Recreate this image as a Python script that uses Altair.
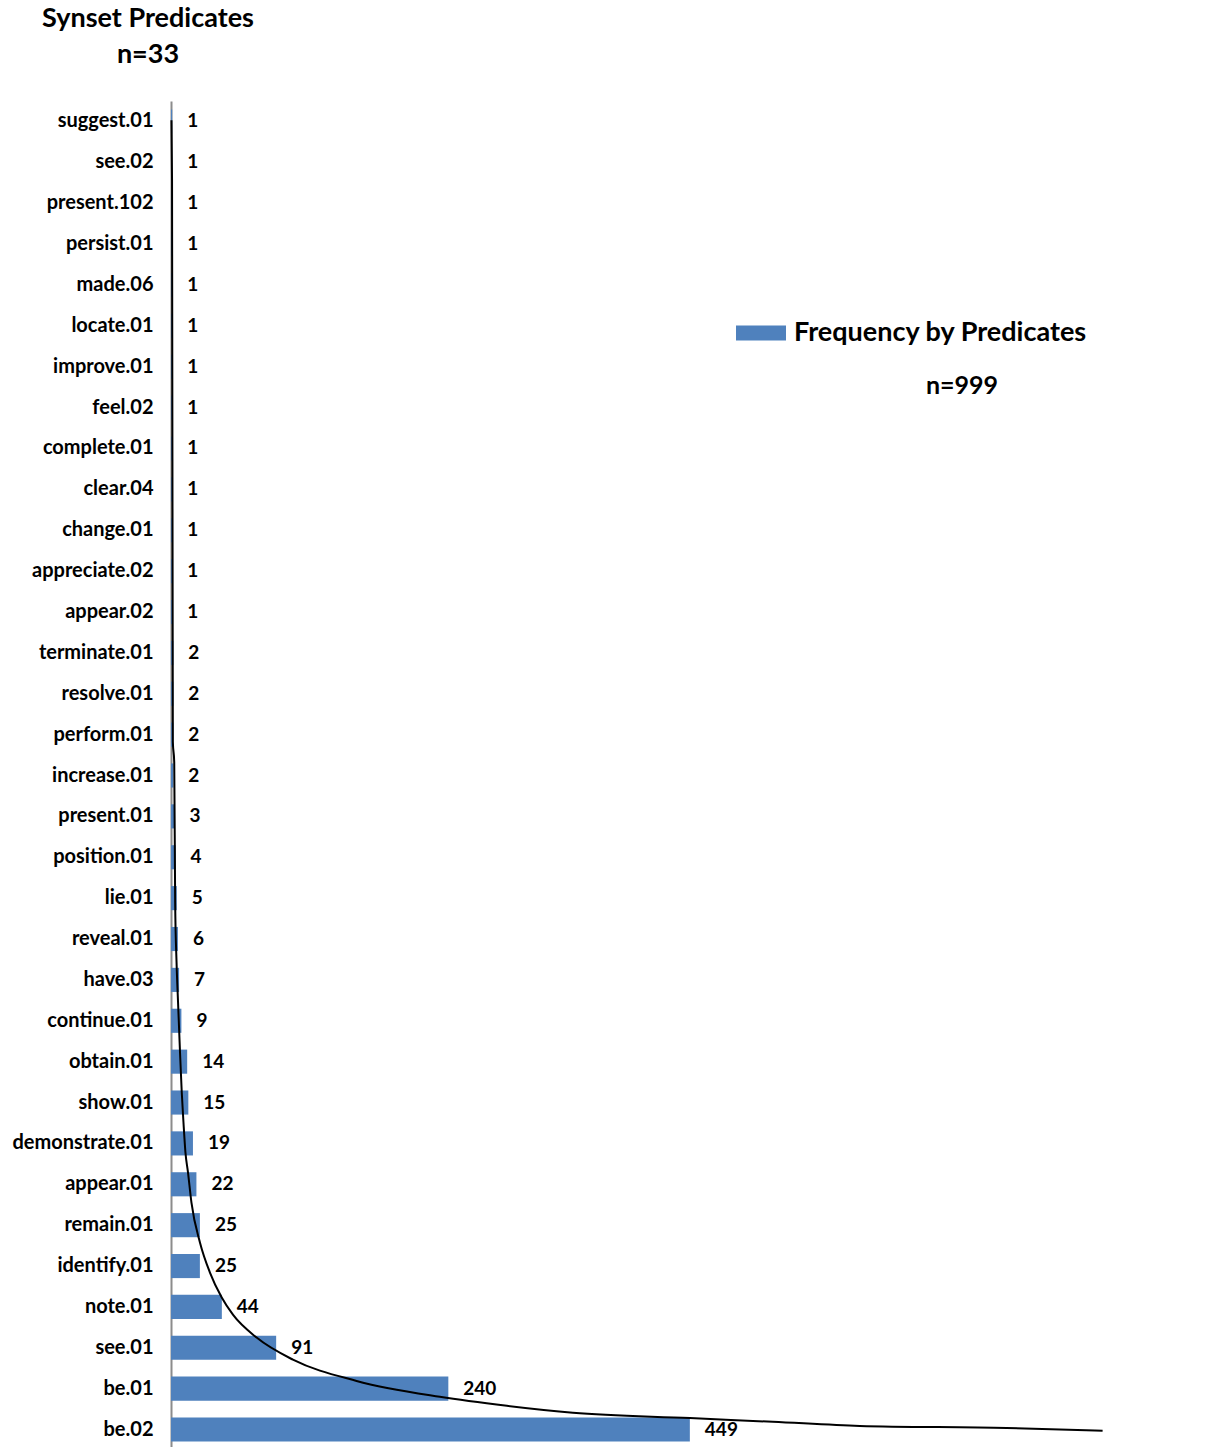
import altair as alt
import pandas as pd

# Synset predicates, listed top to bottom, with their frequencies
predicates = [
    "suggest.01", "see.02", "present.102", "persist.01", "made.06", "locate.01",
    "improve.01", "feel.02", "complete.01", "clear.04", "change.01", "appreciate.02",
    "appear.02", "terminate.01", "resolve.01", "perform.01", "increase.01",
    "present.01", "position.01", "lie.01", "reveal.01", "have.03", "continue.01",
    "obtain.01", "show.01", "demonstrate.01", "appear.01", "remain.01",
    "identify.01", "note.01", "see.01", "be.01", "be.02",
]
frequencies = [
    1, 1, 1, 1, 1, 1, 1, 1, 1, 1, 1, 1, 1, 2, 2, 2, 2, 3, 4, 5, 6, 7, 9,
    14, 15, 19, 22, 25, 25, 44, 91, 240, 449,
]

# Trend curve: frequency value and row position (0 = top edge, 0.5 = first row centre)
trend_value = [
    0.4, 0.9, 1.6, 2.8, 3.6, 4.8, 6.1, 7.8, 9.3, 10.8, 12.5, 14.7, 17.7,
    25.1, 33.7, 43.9, 53.6, 74.1, 105.5, 160.6, 232.7, 290.7, 347.8, 449.0,
    520.8, 596.0, 723.2, 806.2,
]
trend_row = [
    0.47, 1.96, 15.68, 16.17, 19.60, 21.07, 22.05, 23.27, 24.25, 24.99, 25.72,
    26.21, 26.95, 27.93, 28.66, 29.27, 29.69, 30.25, 30.79, 31.31, 31.70, 31.92,
    32.09, 32.22, 32.31, 32.41, 32.46, 32.53,
]

series_name = "Frequency by Predicates"
total_label = "n=999"
title_lines = ["Synset Predicates", "n=33"]

bars_df = pd.DataFrame({"predicate": predicates, "frequency": frequencies,
                        "series": series_name})
trend_df = pd.DataFrame({"value": trend_value, "row": trend_row})
note_df = pd.DataFrame({"note": [total_label]})

FONT = "Lato"
BLUE = "#4F81BD"

x_scale = alt.Scale(domain=[0, 900], nice=False, zero=True)
y_band = alt.Scale(domain=predicates, paddingInner=0.41, paddingOuter=0.205)

bars = alt.Chart(bars_df).mark_bar().encode(
    x=alt.X("frequency:Q", scale=x_scale, axis=None),
    y=alt.Y("predicate:N", scale=y_band, sort=predicates,
            axis=alt.Axis(title=None, ticks=False, grid=False, domain=True,
                          domainColor="#8c8c8c", domainWidth=2,
                          labelFont=FONT, labelFontSize=20, labelFontWeight="bold",
                          labelColor="black", labelPadding=18, labelLimit=300)),
    color=alt.Color("series:N", scale=alt.Scale(range=[BLUE]),
                    legend=alt.Legend(
                        title=None, orient="none", legendX=565, legendY=207,
                        symbolType="M-1,-0.3H1V0.3H-1Z", symbolSize=2500,
                        symbolStrokeWidth=0, labelFont=FONT, labelFontSize=27,
                        labelFontWeight="bold", labelColor="black", labelOffset=8,
                        labelLimit=500)),
)

labels = alt.Chart(bars_df).mark_text(
    align="left", baseline="middle", dx=15, font=FONT, fontSize=19,
    fontWeight="bold", color="black",
).encode(
    x=alt.X("frequency:Q", scale=x_scale, axis=None),
    y=alt.Y("predicate:N", scale=y_band, sort=predicates, axis=None),
    text=alt.Text("frequency:Q"),
)

trend = alt.Chart(trend_df).mark_line(
    color="black", strokeWidth=2, interpolate="monotone",
).encode(
    x=alt.X("value:Q", scale=x_scale, axis=None),
    y=alt.Y("row:Q", scale=alt.Scale(domain=[0, 33], reverse=True, nice=False,
                                     zero=False), axis=None),
    order=alt.Order("row:Q"),
)

note = alt.Chart(note_df).mark_text(
    align="center", baseline="middle", font=FONT, fontSize=25,
    fontWeight="bold", color="black",
).encode(
    text="note:N",
    x=alt.value(791),
    y=alt.value(285),
)

chart = alt.layer(bars, labels, trend, note).resolve_scale(
    y="independent"
).properties(
    width=1040,
    height=1349,
    padding={"left": 171, "top": 101, "right": 0, "bottom": 0},
    autosize=alt.AutoSizeParams(type="none"),
    title=alt.TitleParams(
        title_lines, anchor="start", align="center", dx=-23, frame="group",
        font=FONT, fontSize=27, fontWeight="bold", color="black",
        lineHeight=36, offset=32,
    ),
).configure_view(stroke=None)

chart.save("out.html", embed_options={"renderer": "svg", "actions": False})
